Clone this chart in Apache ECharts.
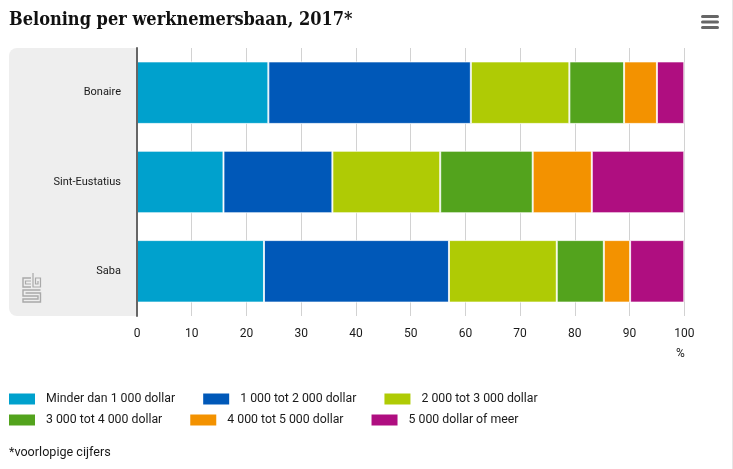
<!DOCTYPE html>
<html>
<head>
<meta charset="utf-8">
<style>
  html, body { margin: 0; padding: 0; background: #fff; }
  #chart { width: 733px; height: 469px; }
</style>
<script src="https://cdn.jsdelivr.net/npm/echarts@6/dist/echarts.min.js"></script>
</head>
<body>
<div id="chart"></div>
<script>
const categories = ["Bonaire", "Sint-Eustatius", "Saba"];
const seriesNames = [
  "Minder dan 1 000 dollar",
  "1 000 tot 2 000 dollar",
  "2 000 tot 3 000 dollar",
  "3 000 tot 4 000 dollar",
  "4 000 tot 5 000 dollar",
  "5 000 dollar of meer",
];
const colors = ["#00a1cd", "#0058b8", "#afcb05", "#53a31d", "#f39200", "#af0e80"];
const minder1000 = [24, 15.8, 23.2];
const van1000 = [37, 19.9, 33.8];
const van2000 = [18, 19.7, 19.7];
const van3000 = [10, 16.9, 8.6];
const van4000 = [6, 10.8, 4.8];
const van5000 = [5, 16.9, 9.9];
const seriesValues = [minder1000, van1000, van2000, van3000, van4000, van5000];

const font = "Roboto";
const textColor = "#1a1a1a";

const chart = echarts.init(document.getElementById("chart"), null, { renderer: "canvas" });

// menu icon and cbs logo are page furniture, not data
function line(points, color, width) {
  return {
    type: "polyline",
    shape: { points: points },
    style: { stroke: color, lineWidth: width, fill: null },
  };
}
const logoColor = "#a9a9a9";
const logo = {
  type: "group",
  x: 22,
  y: 273,
  children: [
    line([[9, 5], [1, 5], [1, 14], [9, 14]], logoColor, 1.4),
    line([[9, 8], [3.5, 8], [3.5, 11], [9, 11]], logoColor, 1.2),
    line([[11, 0], [11, 14], [18.5, 14], [18.5, 5], [13.5, 5], [13.5, 11], [16, 11], [16, 8]], logoColor, 1.2),
    line([[18.5, 17], [1, 17], [1, 23], [16, 23], [16, 26], [1, 26], [1, 29], [18.5, 29], [18.5, 20], [3.5, 20]], logoColor, 1.4),
  ],
};

const graphics = [
  {
    type: "rect",
    z: -1,
    shape: { x: 9, y: 48, width: 128, height: 268, r: [8, 0, 0, 8] },
    style: { fill: "#eeeeee" },
  },
  {
    type: "rect",
    shape: { x: 732, y: 0, width: 1, height: 469 },
    style: { fill: "#e6e6e6" },
  },
  logo,
  { type: "rect", shape: { x: 701, y: 15, width: 18, height: 3, r: 1.5 }, style: { fill: "#666666" } },
  { type: "rect", shape: { x: 701, y: 20.5, width: 18, height: 3, r: 1.5 }, style: { fill: "#666666" } },
  { type: "rect", shape: { x: 701, y: 26, width: 18, height: 3, r: 1.5 }, style: { fill: "#666666" } },
  {
    type: "text",
    x: 676,
    y: 348,
    style: { text: "%", font: "12px '" + font + "'", fill: textColor },
  },
  {
    type: "text",
    x: 9,
    y: 446,
    style: { text: "*voorlopige cijfers", font: "12.6px '" + font + "'", fill: textColor },
  },
];

function legendRow(names, top) {
  return {
    left: 9,
    top: top,
    padding: 0,
    itemWidth: 26,
    itemHeight: 11,
    itemGap: 28,
    icon: "rect",
    data: names,
    itemStyle: { borderWidth: 0 },
    textStyle: { fontFamily: font, fontSize: 12.3, color: textColor, padding: [0, 0, 0, 6] },
  };
}

const option = {
  animation: false,
  title: {
    text: "Beloning per werknemersbaan, 2017*",
    left: 9,
    top: 11,
    padding: 0,
    textStyle: { fontFamily: "DejaVu Serif Condensed", fontWeight: "bold", fontSize: 18, color: "#111111" },
  },
  grid: { left: 137, right: 48.7, top: 48, bottom: 153, containLabel: false },
  legend: [legendRow(seriesNames.slice(0, 3), 393), legendRow(seriesNames.slice(3, 6), 414)],
  xAxis: {
    type: "value",
    min: 0,
    max: 100,
    interval: 10,
    axisLine: { show: false },
    axisTick: { show: false },
    axisLabel: { fontFamily: font, fontSize: 12, color: textColor, margin: 12 },
    splitLine: { show: true, lineStyle: { color: "#d2d2d2", width: 1 } },
  },
  yAxis: {
    type: "category",
    inverse: true,
    z: 5,
    data: categories,
    axisLine: { show: true, lineStyle: { color: "#666666", width: 2 } },
    axisTick: { show: false },
    axisLabel: { fontFamily: font, fontSize: 11, color: textColor, margin: 16, padding: [4, 0, 0, 0] },
  },
  series: seriesNames.map(function (name, i) {
    return {
      name: name,
      type: "bar",
      stack: "totaal",
      barWidth: 62.5,
      data: seriesValues[i],
      itemStyle: { color: colors[i], borderColor: "rgba(255,255,255,0.75)", borderWidth: 1 },
    };
  }),
  graphic: graphics,
};
chart.setOption(option);
</script>
</body>
</html>
